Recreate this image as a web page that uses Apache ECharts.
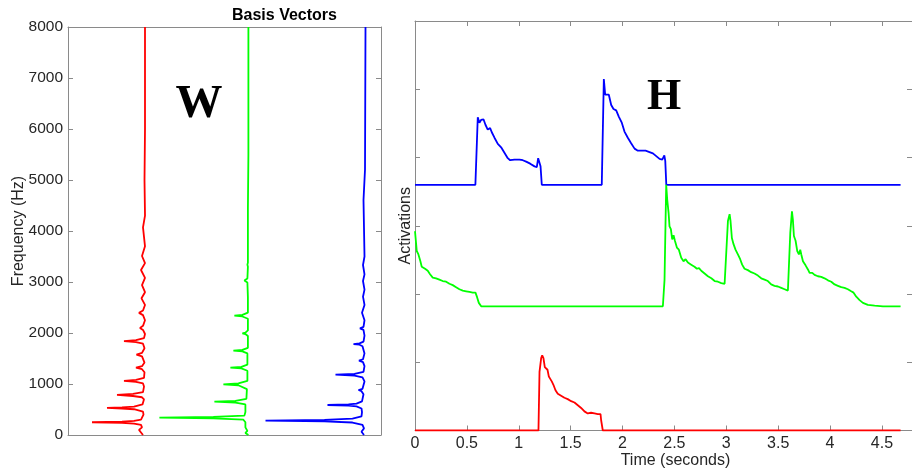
<!DOCTYPE html>
<html>
<head>
<meta charset="utf-8">
<script src="https://cdn.jsdelivr.net/npm/echarts@6/dist/echarts.min.js"></script>
<style>
  html, body { margin: 0; padding: 0; background: #ffffff; }
  #chart { width: 912px; height: 468px; }
</style>
</head>
<body>
<div id="chart"></div>
<script>
// ---- Basis vectors W: [frequency (Hz), magnitude] ----
const wRed = [[0,1],[50,3],[100,5],[150,2],[180,2],[200,3],[225,10],[240,22],[250,52],[260,22],[275,10],[300,3],[330,1.5],
  [400,0.5],[460,1],[505,10],[520,22],[530,37],[540,22],[555,10],[600,1.5],[700,0],[740,2],[765,11],[785,27],[805,11],
  [840,1],[950,0],[1010,1],[1040,8],[1060,20],[1080,8],[1120,0],[1230,-0.5],[1290,2],[1320,8],[1350,2],[1420,-0.5],
  [1540,2],[1575,7.5],[1610,2],[1700,-0.5],[1790,1],[1820,8],[1840,20],[1860,8],[1900,0],[1980,-1],[2060,1],[2100,4],
  [2140,1],[2250,-1],[2350,1],[2395,5],[2440,1],[2550,-1],[2680,2.5],[2800,-1],[2940,2],[3080,-1],[3235,3],[3370,-1],
  [3510,2],[3700,-1],[4072,1],[4300,-1],[5000,-0.5],[6000,-1],[8000,-1]];

const wGreen = [[0,0],[40,3],[80,1],[150,3],[250,3],[300,5],[325,35],[340,89],[355,35],[380,4],[450,3],[600,3],
  [635,13],[653,34],[670,13],[710,2],[900,1.5],[975,10],[993,25],[1010,10],[1060,1],[1260,1],[1305,7],[1320,18],
  [1335,7],[1380,1],[1600,1],[1638,6],[1653,15],[1668,6],[1710,0.5],[1940,0.5],[1980,3],[1993,6],[2006,3],[2050,0.5],
  [2280,0.5],[2324,6],[2339,14],[2354,6],[2400,0.5],[2700,0.5],[2990,1],[3030,4],[3070,1],[3300,0.5],[3340,1],
  [3380,0.5],[4450,0.5],[5500,0],[8000,0]];

const wBlue = [[0,0.5],[65,3],[130,0.5],[200,2],[245,12],[267,40],[282,99],[297,40],[320,12],[365,3],[450,2.5],
  [520,3],[560,8],[575,16],[588,37],[601,16],[616,8],[660,2.5],[800,1],[860,3],[882,6],[905,2],[1050,0],[1130,2],
  [1165,10],[1183,29],[1200,10],[1240,1],[1350,0],[1430,1.5],[1457,5.5],[1485,1.5],[1600,0],[1740,2],[1770,5],
  [1783,11],[1796,5],[1830,1],[1950,0],[2060,1],[2091,4.5],[2120,1],[2250,0],[2397,2.5],[2550,0],[2712,1.5],
  [2850,0],[3020,1.5],[3150,0],[3333,1.5],[3500,0],[4608,1],[5200,-0.5],[8000,-1]];

// ---- Activations H: [time (s), activation] ----
const hBlue = [[0,3.6],[0.582,3.6],[0.605,4.59],[0.621,4.51],[0.637,4.55],[0.66,4.56],[0.679,4.48],[0.701,4.41],
  [0.724,4.43],[0.74,4.37],[0.766,4.29],[0.798,4.2],[0.83,4.15],[0.862,4.07],[0.894,3.99],[0.917,3.96],[0.959,3.97],
  [1.007,3.97],[1.039,3.96],[1.071,3.94],[1.11,3.91],[1.152,3.87],[1.174,3.86],[1.187,3.99],[1.2,3.98],[1.21,3.87],
  [1.222,3.6],[1.8,3.6],[1.82,5.15],[1.833,4.92],[1.849,4.94],[1.868,4.92],[1.891,4.77],[1.913,4.71],[1.939,4.69],
  [1.964,4.6],[1.993,4.51],[2.019,4.38],[2.051,4.29],[2.083,4.21],[2.116,4.13],[2.148,4.1],[2.18,4.1],[2.222,4.1],
  [2.26,4.08],[2.293,4.06],[2.325,4.02],[2.357,3.98],[2.383,3.97],[2.403,4.03],[2.412,3.95],[2.422,3.6],[4.68,3.6]];

const hGreen = [[0,2.92],[0.017,2.63],[0.033,2.58],[0.052,2.48],[0.065,2.4],[0.081,2.42],[0.097,2.37],[0.123,2.34],
  [0.145,2.29],[0.171,2.24],[0.203,2.23],[0.235,2.21],[0.267,2.19],[0.3,2.18],[0.332,2.15],[0.364,2.13],[0.396,2.1],
  [0.428,2.07],[0.46,2.05],[0.493,2.04],[0.525,2.03],[0.557,2.02],[0.583,2.02],[0.599,1.95],[0.615,1.87],[0.638,1.82],
  [1.18,1.82],[1.19,1.84],[1.2,1.82],[2.389,1.82],[2.405,2.21],[2.421,3.6],[2.431,3.38],[2.444,3.19],[2.453,2.99],
  [2.466,2.95],[2.479,2.8],[2.492,2.86],[2.505,2.78],[2.524,2.68],[2.543,2.65],[2.566,2.53],[2.588,2.48],[2.608,2.51],
  [2.63,2.46],[2.662,2.43],[2.694,2.4],[2.717,2.37],[2.737,2.38],[2.759,2.34],[2.791,2.3],[2.823,2.26],[2.856,2.23],
  [2.888,2.19],[2.92,2.18],[2.952,2.16],[2.984,2.15],[3.0,2.16],[3.016,3.07],[3.032,3.17],[3.041,3.07],[3.054,2.82],
  [3.07,2.73],[3.089,2.65],[3.112,2.58],[3.134,2.51],[3.153,2.43],[3.176,2.37],[3.208,2.35],[3.24,2.32],[3.272,2.3],
  [3.305,2.27],[3.337,2.23],[3.369,2.21],[3.401,2.19],[3.433,2.14],[3.465,2.12],[3.498,2.11],[3.53,2.09],[3.562,2.07],
  [3.594,2.05],[3.617,2.9],[3.633,3.21],[3.642,3.09],[3.652,2.85],[3.668,2.78],[3.684,2.63],[3.7,2.58],[3.713,2.65],
  [3.723,2.58],[3.739,2.48],[3.764,2.42],[3.787,2.36],[3.803,2.31],[3.829,2.31],[3.851,2.28],[3.883,2.26],[3.915,2.25],
  [3.947,2.23],[3.98,2.2],[4.012,2.18],[4.044,2.14],[4.076,2.12],[4.108,2.1],[4.14,2.09],[4.172,2.07],[4.204,2.04],
  [4.227,2.02],[4.253,1.96],[4.285,1.91],[4.317,1.87],[4.365,1.84],[4.43,1.83],[4.51,1.82],[4.68,1.82]];

const hRed = [[0,0],[1.19,0],[1.2,0.86],[1.216,1.06],[1.226,1.1],[1.238,1.06],[1.251,0.93],[1.264,0.91],[1.277,0.89],
  [1.29,0.79],[1.302,0.76],[1.318,0.72],[1.334,0.67],[1.354,0.59],[1.376,0.54],[1.408,0.51],[1.44,0.48],[1.472,0.46],
  [1.505,0.43],[1.537,0.41],[1.569,0.37],[1.601,0.33],[1.633,0.28],[1.665,0.25],[1.697,0.26],[1.73,0.25],[1.762,0.24],
  [1.788,0.24],[1.794,0.15],[1.81,0],[4.68,0]];

// ---- Styling ----
const RED = '#ff0000', GREEN = '#00ff00', BLUE = '#0000ff';
const AXIS_GRAY = '#8a8a8a';
const TEXT = '#262626';
const FONT = '"Liberation Sans", Arial, Helvetica, sans-serif';
const SERIF = '"Liberation Serif", "Times New Roman", serif';

// each basis vector hangs from its own baseline position along the hidden x axis
const basis = [
  { data: wRed, color: RED, base: 76 },
  { data: wGreen, color: GREEN, base: 180.4 },
  { data: wBlue, color: BLUE, base: 296.5 }
];
const activations = [
  { data: hBlue, color: BLUE },
  { data: hGreen, color: GREEN },
  { data: hRed, color: RED }
];

const line = { show: true, onZero: false, lineStyle: { color: AXIS_GRAY, width: 1 } };
const tick = { show: true, inside: true, length: 5, lineStyle: { color: AXIS_GRAY, width: 1 } };
const noTick = { show: false };

const chart = echarts.init(document.getElementById('chart'), null, { renderer: 'canvas' });

chart.setOption({
  animation: false,
  backgroundColor: '#ffffff',
  grid: [
    { left: 68, top: 27, width: 313, height: 408, containLabel: false, outerBoundsMode: 'none' },
    { left: 415, top: 21, width: 497, height: 409.5, containLabel: false, outerBoundsMode: 'none' }
  ],
  xAxis: [
    { gridIndex: 0, type: 'value', min: 0, max: 313, position: 'bottom',
      axisLine: line, axisTick: noTick, axisLabel: { show: false }, splitLine: { show: false } },
    { gridIndex: 0, type: 'value', min: 0, max: 313, position: 'top',
      axisLine: line, axisTick: noTick, axisLabel: { show: false }, splitLine: { show: false } },
    { gridIndex: 1, type: 'value', min: 0, max: 4.79, interval: 0.5, position: 'bottom',
      axisLine: line, axisTick: tick,
      axisLabel: { show: true, color: TEXT, fontSize: 16, fontFamily: FONT, margin: 5, showMaxLabel: false,
        formatter: v => (Math.abs(v % 0.5) < 1e-9 ? String(v) : '') },
      splitLine: { show: false },
      name: 'Time (seconds)', nameLocation: 'middle', nameGap: 22, nameMoveOverlap: false,
      nameTextStyle: { color: TEXT, fontSize: 16, fontFamily: FONT, padding: [0, 0, 0, 24] } },
    { gridIndex: 1, type: 'value', min: 0, max: 4.79, interval: 0.5, position: 'top',
      axisLine: line, axisTick: tick, axisLabel: { show: false }, splitLine: { show: false } }
  ],
  yAxis: [
    { gridIndex: 0, type: 'value', min: 0, max: 8000, interval: 1000, position: 'left',
      axisLine: line, axisTick: tick,
      axisLabel: { show: true, color: TEXT, fontSize: 15.5, fontFamily: FONT, margin: 5,
        formatter: v => String(v) },
      splitLine: { show: false },
      name: 'Frequency (Hz)', nameLocation: 'middle', nameGap: 41, nameMoveOverlap: false,
      nameTextStyle: { color: TEXT, fontSize: 16, fontFamily: FONT } },
    { gridIndex: 0, type: 'value', min: 0, max: 8000, interval: 1000, position: 'right',
      axisLine: line, axisTick: tick, axisLabel: { show: false }, splitLine: { show: false } },
    { gridIndex: 1, type: 'value', min: 0, max: 6, interval: 1, position: 'left',
      axisLine: line, axisTick: tick, axisLabel: { show: false }, splitLine: { show: false },
      name: 'Activations', nameLocation: 'middle', nameGap: 1, nameMoveOverlap: false,
      nameTextStyle: { color: TEXT, fontSize: 16, fontFamily: FONT } },
    { gridIndex: 1, type: 'value', min: 0, max: 6, interval: 1, position: 'right',
      axisLine: line, axisTick: tick, axisLabel: { show: false }, splitLine: { show: false } }
  ],
  graphic: [
    { type: 'text', left: 232, top: 8, style: { text: 'Basis Vectors', align: 'center',
      fill: '#000000', font: 'bold 16px ' + FONT } },
    { type: 'text', x: 199, y: 81, style: { text: 'W', align: 'center', verticalAlign: 'top',
      fill: '#000000', font: 'bold 47px ' + SERIF } },
    { type: 'text', x: 664, y: 76, style: { text: 'H', align: 'center', verticalAlign: 'top',
      fill: '#000000', font: 'bold 44px ' + SERIF } }
  ],
  series: [
    ...basis.map(b => ({
      type: 'line', xAxisIndex: 0, yAxisIndex: 0, silent: true,
      showSymbol: false, symbol: 'none', smooth: false,
      data: b.data.map(([f, m]) => [b.base - m, f]),
      lineStyle: { color: b.color, width: 1.8 }
    })),
    ...activations.map(a => ({
      type: 'line', xAxisIndex: 2, yAxisIndex: 2, silent: true,
      showSymbol: false, symbol: 'none', smooth: false,
      data: a.data,
      lineStyle: { color: a.color, width: 1.8 }
    }))
  ]
});
</script>
</body>
</html>
